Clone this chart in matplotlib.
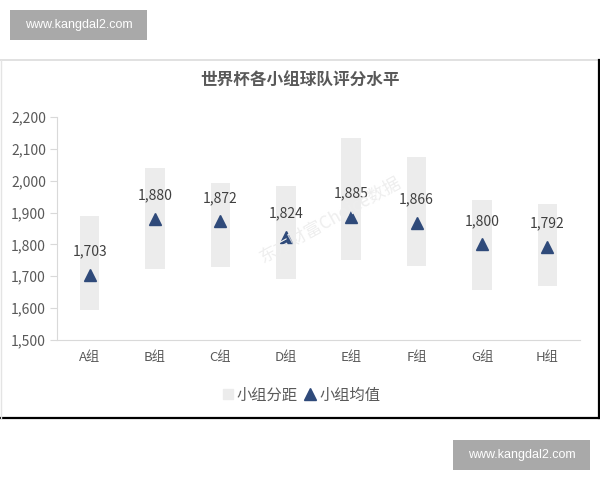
import matplotlib.pyplot as plt
from matplotlib.lines import Line2D
from matplotlib.patches import Rectangle
from matplotlib.ticker import FuncFormatter

plt.rcParams['font.family'] = ['Noto Sans CJK SC', 'DejaVu Sans']

groups = ['A组', 'B组', 'C组', 'D组', 'E组', 'F组', 'G组', 'H组']
range_low = [1593, 1723, 1729, 1691, 1752, 1731, 1658, 1668]
range_high = [1890, 2041, 1994, 1982, 2133, 2074, 1940, 1927]
group_mean = [1703, 1880, 1872, 1824, 1885, 1866, 1800, 1792]
yticks = [1500, 1600, 1700, 1800, 1900, 2000, 2100, 2200]

TEXT = '#595959'
BAR = '#ececec'
NAVY = '#2f4a7a'

fig = plt.figure(figsize=(6, 4.8), dpi=100)

# chart frame (screenshot border)
fig.add_artist(Line2D([0, 598/600], [1 - 60/480, 1 - 60/480], color='#dcdcdc', lw=1.2))
fig.add_artist(Line2D([598.5/600, 598.5/600], [1 - 60/480, 1 - 418/480], color='black', lw=1.6))
fig.add_artist(Line2D([0, 599/600], [1 - 418/480, 1 - 418/480], color='black', lw=1.6))
fig.add_artist(Line2D([1/600, 1/600], [1 - 60/480, 1 - 418/480], color='#e4e4e4', lw=1))

# site watermark boxes
for x0, y0 in [(10, 10), (453, 440)]:
    fig.add_artist(Rectangle((x0/600, 1 - (y0 + 30)/480), 137/600, 30/480,
                             transform=fig.transFigure, color='#a9a9a9', lw=0))
    fig.text((x0 + 68.5)/600, 1 - (y0 + 15)/480, 'www.kangdal2.com', color='white',
             fontsize=9, ha='center', va='center', family=['Liberation Sans', 'DejaVu Sans'])

ax = fig.add_axes([57/600, 1 - 340/480, 523/600, 223/480])
x = list(range(len(groups)))
heights = [h - l for h, l in zip(range_high, range_low)]
ax.bar(x, heights, bottom=range_low, width=0.3, color=BAR, zorder=1)
ax.plot(x, group_mean, linestyle='none', marker='^', markersize=9, color=NAVY, zorder=3)
for xi, m in zip(x, group_mean):
    ax.annotate(f'{m:,}', (xi, m), xytext=(0, 17), textcoords='offset points',
                ha='center', va='center', fontsize=10, color='#404040')

ax.set_xlim(-0.5, len(groups) - 0.5)
ax.set_ylim(1500, 2200)
ax.set_yticks(yticks)
ax.yaxis.set_major_formatter(FuncFormatter(lambda v, _: f'{int(v):,}'))
ax.set_xticks(x)
ax.set_xticklabels(groups)
ax.tick_params(axis='y', colors='#d9d9d9', labelcolor=TEXT, labelsize=10, length=5, pad=3)
ax.tick_params(axis='x', length=0, labelcolor=TEXT, labelsize=9.5, pad=8)
for s in ['top', 'right']:
    ax.spines[s].set_visible(False)
ax.spines['left'].set_color('#d9d9d9')
ax.spines['bottom'].set_color('#d9d9d9')

fig.text(0.5, 1 - 81/480, '世界杯各小组球队评分水平', ha='center', va='center',
         fontsize=12, fontweight='bold', color=TEXT)

# data source watermark
fig.text(330/600, 1 - 220/480, '东方财富Choice数据', ha='center', va='center', rotation=29,
         fontsize=12.5, color='#eeeeee', zorder=0.5)

handles = [Line2D([], [], linestyle='none', marker='s', markersize=7, color=BAR),
           Line2D([], [], linestyle='none', marker='^', markersize=8, color=NAVY)]
fig.legend(handles, ['小组分距', '小组均值'], loc='center', bbox_to_anchor=(300/600, 1 - 395/480),
           ncol=2, frameon=False, fontsize=11, labelcolor=TEXT, handletextpad=0.1,
           columnspacing=0.3, handlelength=1.0)

fig.savefig('out.png', dpi=100)
